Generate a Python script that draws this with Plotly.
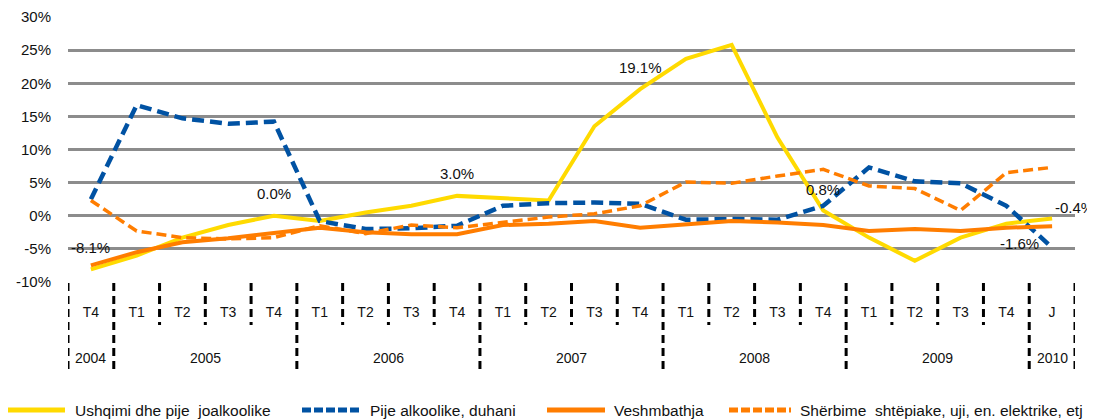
import plotly.graph_objects as go

quarters = ["T4", "T1", "T2", "T3", "T4", "T1", "T2", "T3", "T4", "T1", "T2", "T3", "T4",
            "T1", "T2", "T3", "T4", "T1", "T2", "T3", "T4", "J"]
years = ["2004", "2005", "2006", "2007", "2008", "2009", "2010"]
year_counts = [1, 4, 4, 4, 4, 4, 1]
y_ticks = [-10, -5, 0, 5, 10, 15, 20, 25, 30]
y_ticktext = ["-10%", "-5%", "0%", "5%", "10%", "15%", "20%", "25%", "30%"]

ushqimi = [-8.1, -6.0, -3.3, -1.4, 0.0, -0.8, 0.5, 1.5, 3.0, 2.7, 2.3, 13.5, 19.1,
           23.7, 25.8, 11.8, 0.8, -3.3, -6.8, -3.3, -1.2, -0.4]
pije = [2.5, 16.7, 14.7, 13.9, 14.2, -0.8, -2.0, -1.9, -1.5, 1.5, 1.9, 2.0, 1.8,
        -0.6, -0.5, -0.6, 1.5, 7.3, 5.2, 4.9, 1.5, -4.8]
veshmbathja = [-7.5, -5.5, -4.0, -3.4, -2.6, -1.8, -2.5, -2.8, -2.8, -1.4, -1.2, -0.8, -1.8,
               -1.3, -0.8, -1.0, -1.4, -2.3, -2.0, -2.3, -1.8, -1.6]
sherbime = [2.3, -2.3, -3.3, -3.5, -3.3, -1.5, -2.7, -1.4, -1.8, -1.0, -0.2, 0.3, 1.5,
            5.1, 4.9, 6.0, 7.0, 4.5, 4.1, 0.8, 6.5, 7.3]

names = ["Ushqimi dhe pije  joalkoolike", "Pije alkoolike, duhani", "Veshmbathja",
         "Shërbime  shtëpiake, uji, en. elektrike, etj"]
colors = ["#FFDA00", "#0052A3", "#FF7D00", "#FF7D00"]
dashes = ["solid", "12px,6px", "solid", "10px,5px"]
widths = [4, 4.5, 4, 3.5]
series = [ushqimi, pije, veshmbathja, sherbime]

x = list(range(len(quarters)))

# geometry (figure pixels; the page body adds an 8px offset)
FIG_W, FIG_H = 1087, 412
M_L, M_R, M_T, M_B = 60, 20, 9, 138
plot_w = FIG_W - M_L - M_R
plot_h = FIG_H - M_T - M_B


def py(off_px):
    """paper y for a pixel offset below the plot bottom"""
    return -off_px / plot_h


fig = go.Figure()
for nm, s, c, d, w in zip(names, series, colors, dashes, widths):
    fig.add_trace(go.Scatter(x=x, y=s, name=nm, mode="lines",
                             line=dict(color=c, width=w, dash=d), showlegend=False))

# zero line (dashed black over white)
fig.add_shape(type="line", xref="paper", yref="y", x0=0, x1=1, y0=0, y1=0,
              line=dict(color="white", width=4), layer="below")
fig.add_shape(type="line", xref="paper", yref="y", x0=0, x1=1, y0=0, y1=0,
              line=dict(color="black", width=2.5, dash="7px,5px"), layer="below")

# category separators below the axis
year_bounds = {-0.5}
acc = 0
for c in year_counts:
    acc += c
    year_bounds.add(acc - 0.5)
for i in range(len(quarters) + 1):
    b = i - 0.5
    long_ = b in year_bounds
    fig.add_shape(type="line", xref="x", yref="paper", x0=b, x1=b, y0=py(1),
                  y1=py(92) if long_ else py(43),
                  line=dict(color="black", width=3, dash="8px,5px"))

# year labels
acc = 0
for yr, c in zip(years, year_counts):
    center = acc + (c - 1) / 2
    fig.add_annotation(x=center, y=py(76), xref="x", yref="paper", text=yr,
                       showarrow=False, font=dict(size=14, color="#111"), yanchor="middle")
    acc += c

# data labels
label_pts = [(0, ushqimi[0], 0, 22), (4, ushqimi[4], 0, 22), (8, ushqimi[8], 0, 22),
             (12, ushqimi[12], 0, 22), (16, ushqimi[16], 0, 21),
             (21, ushqimi[21], 22, 11), (21, veshmbathja[21], -33, -17)]
for xi, yv, xs, ys in label_pts:
    fig.add_annotation(x=xi, y=yv, text=f"{yv:.1f}%", showarrow=False,
                       xshift=xs, yshift=ys, font=dict(size=15, color="#111"))

# custom legend (line sample + text) below the plot
leg_y = py(128)
leg_line_px = [(8, 65), (302, 360), (547, 605), (729, 791)]
leg_text_px = [73, 368, 612, 798]
for (a, b), tx, nm, c, d, w in zip(leg_line_px, leg_text_px, names, colors,
                                    ["solid", "9px,3px", "solid", "9px,3px"], [5, 5, 5, 5]):
    fig.add_shape(type="line", xref="paper", yref="paper",
                  x0=(a - 68) / plot_w, x1=(b - 68) / plot_w, y0=leg_y, y1=leg_y,
                  line=dict(color=c, width=w, dash=d))
    fig.add_annotation(x=(tx - 68) / plot_w, y=leg_y, xref="paper", yref="paper",
                       text=nm, showarrow=False, xanchor="left", yanchor="middle",
                       font=dict(size=15.5, color="#111"))

fig.update_layout(
    width=FIG_W, height=FIG_H,
    margin=dict(l=M_L, r=M_R, t=M_T, b=M_B, autoexpand=False),
    plot_bgcolor="white", paper_bgcolor="white",
    font=dict(family="Liberation Sans, Arial, sans-serif", size=14, color="#111"),
    showlegend=False,
)
fig.update_xaxes(range=[-0.5, len(quarters) - 0.5], tickmode="array", tickvals=x,
                 ticktext=quarters, showgrid=False, zeroline=False, ticks="",
                 showline=False, ticklabelstandoff=20, tickfont=dict(size=14))
fig.update_yaxes(range=[-10, 30], tickmode="array", tickvals=y_ticks, ticktext=y_ticktext,
                 showgrid=True, gridcolor="#8C8C8C", gridwidth=3, zeroline=False,
                 showline=False, tickfont=dict(size=15), ticklabelstandoff=16,
                 ticklabeloverflow="allow")

fig.write_html("out.html")
